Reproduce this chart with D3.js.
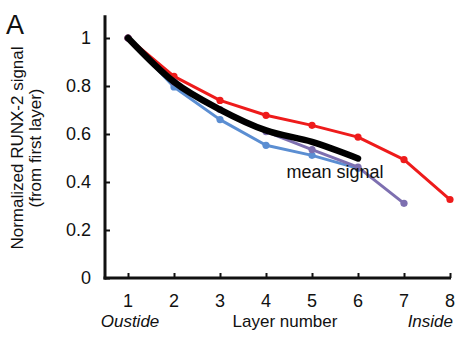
<!DOCTYPE html>
<html>
<head>
<meta charset="utf-8">
<script src="https://cdn.jsdelivr.net/npm/d3@7.9.0/dist/d3.min.js"></script>
<style>
  body { margin: 0; background: #fff; }
  text { font-family: Arial, "Liberation Sans", sans-serif; fill: #111; }
</style>
</head>
<body>
<svg id="chart" width="458" height="340"></svg>
<script>
// layer numbers and normalized signal per sample
const layers = [1, 2, 3, 4, 5, 6, 7, 8];
const redValues = [1, 0.84, 0.74, 0.678, 0.636, 0.587, 0.493, 0.327];
const blueValues = [1, 0.796, 0.66, 0.553, 0.511, 0.457];
const purpleValues = [1, 0.817, 0.702, 0.61, 0.535, 0.462, 0.311];
const meanValues = [1, 0.817, 0.702, 0.615, 0.567, 0.498];
const yTicks = [0, 0.2, 0.4, 0.6, 0.8, 1];

const svg = d3.select('#chart');

const x = d3.scaleLinear().domain([0.5, 8]).range([105, 450]);
const y = d3.scaleLinear().domain([0, 1]).range([278, 38]);

// axes
const yAxis = d3.axisRight(y)
  .tickValues(yTicks)
  .tickSize(5)
  .tickFormat(d => d);
const gy = svg.append('g').attr('transform', `translate(${x(0.5)},0)`).call(yAxis);
gy.select('.domain').remove();
gy.selectAll('line').attr('stroke', '#111').attr('stroke-width', 2);
gy.selectAll('text')
  .attr('x', -14)
  .attr('text-anchor', 'end')
  .attr('font-size', 18)
  .attr('font-family', 'Arial, "Liberation Sans", sans-serif');

const xAxis = d3.axisTop(x).tickValues(layers).tickSize(5).tickFormat('');
const gx = svg.append('g').attr('transform', `translate(0,${y(0)})`).call(xAxis);
gx.select('.domain').remove();
gx.selectAll('line').attr('stroke', '#111').attr('stroke-width', 2);

svg.append('g').selectAll('text')
  .data(layers)
  .join('text')
  .attr('x', d => x(d))
  .attr('y', 307)
  .attr('text-anchor', 'middle')
  .attr('font-size', 18)
  .text(d => d);

// axis lines
svg.append('line')
  .attr('x1', x(0.5)).attr('x2', x(0.5))
  .attr('y1', y(1.095)).attr('y2', y(0) + 1.5)
  .attr('stroke', '#111').attr('stroke-width', 3);
svg.append('line')
  .attr('x1', x(0.5) - 1.5).attr('x2', x(8) + 1)
  .attr('y1', y(0)).attr('y2', y(0))
  .attr('stroke', '#111').attr('stroke-width', 3);

// data lines
const line = d3.line().x((d, i) => x(layers[i])).y(d => y(d));

function drawSeries(values, color) {
  svg.append('path')
    .datum(values)
    .attr('d', line)
    .attr('fill', 'none')
    .attr('stroke', color)
    .attr('stroke-width', 3)
    .attr('stroke-linejoin', 'round');
  svg.append('g').selectAll('circle')
    .data(values)
    .join('circle')
    .attr('cx', (d, i) => x(layers[i]))
    .attr('cy', d => y(d))
    .attr('r', 3.6)
    .attr('fill', color);
}

drawSeries(blueValues, '#5b8ed2');
drawSeries(redValues, '#ee1b1b');
drawSeries(purpleValues, '#7d6fb0');

svg.append('path')
  .datum(meanValues)
  .attr('d', line.curve(d3.curveMonotoneX))
  .attr('fill', 'none')
  .attr('stroke', '#000')
  .attr('stroke-width', 6.5)
  .attr('stroke-linecap', 'round');

svg.append('text')
  .attr('x', 335).attr('y', 178)
  .attr('text-anchor', 'middle')
  .attr('font-size', 18)
  .text('mean signal');

// axis titles
svg.append('text')
  .attr('x', 130).attr('y', 327)
  .attr('text-anchor', 'middle')
  .attr('font-size', 17)
  .attr('font-style', 'italic')
  .text('Oustide');
svg.append('text')
  .attr('x', 285).attr('y', 327)
  .attr('text-anchor', 'middle')
  .attr('font-size', 17)
  .text('Layer number');
svg.append('text')
  .attr('x', 453).attr('y', 327)
  .attr('text-anchor', 'end')
  .attr('font-size', 17)
  .attr('font-style', 'italic')
  .text('Inside');

const yTitle = svg.append('text')
  .attr('transform', 'translate(23,148) rotate(-90)')
  .attr('text-anchor', 'middle')
  .attr('font-size', 17);
yTitle.append('tspan').attr('x', 0).attr('dy', 0).text('Normalized RUNX-2 signal');
yTitle.append('tspan').attr('x', 0).attr('dy', 18).text('(from first layer)');

svg.append('text')
  .attr('x', 6).attr('y', 34)
  .attr('font-size', 27)
  .text('A');
</script>
</body>
</html>
